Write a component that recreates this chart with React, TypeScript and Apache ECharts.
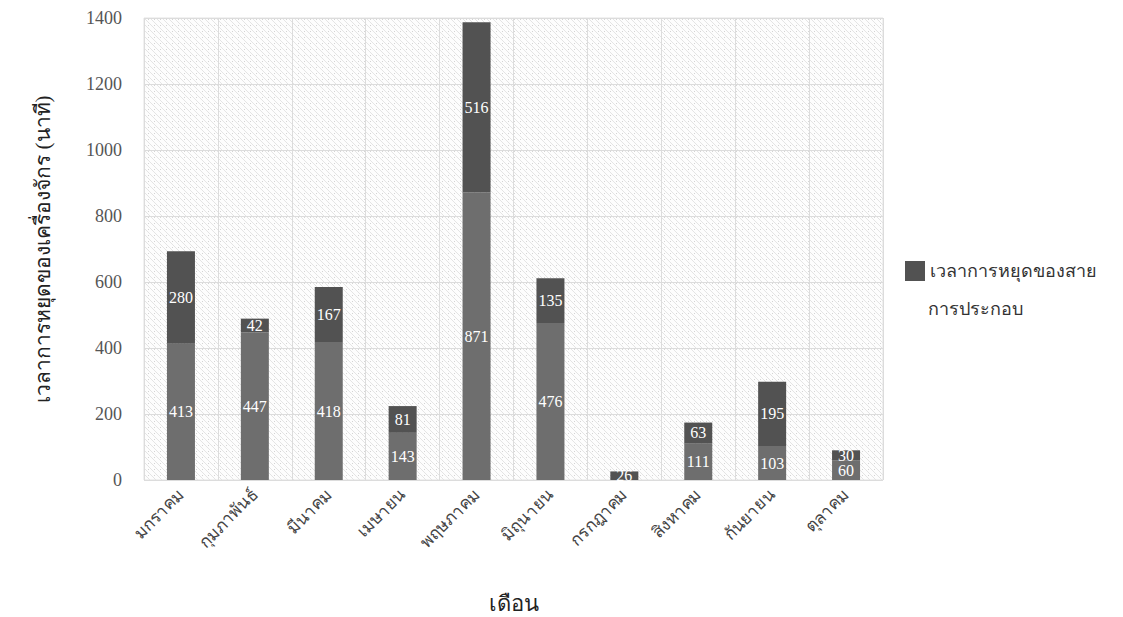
import React, { useEffect, useRef } from "react";
import * as echarts from "echarts";

const months = ["มกราคม", "กุมภาพันธ์", "มีนาคม", "เมษายน", "พฤษภาคม", "มิถุนายน", "กรกฎาคม", "สิงหาคม", "กันยายน", "ตุลาคม"];
const lowerValues = [413, 447, 418, 143, 871, 476, 0, 111, 103, 60];
const upperValues = [280, 42, 167, 81, 516, 135, 26, 63, 195, 30];
const lowerName = "เวลาการหยุดของเครื่องจักร";
const upperName = "เวลาการหยุดของสาย";
const upperNameLine2 = "การประกอบ";
const yAxisTitle = "เวลาการหยุดของเครื่องจักร (นาที)";
const xAxisTitle = "เดือน";

const FONT = "'Liberation Serif', 'DejaVu Serif', serif";

function makePattern(): any {
  const c = document.createElement("canvas");
  c.width = 6;
  c.height = 6;
  const ctx = c.getContext("2d")!;
  ctx.fillStyle = "#fdfdfd";
  ctx.fillRect(0, 0, 6, 6);
  ctx.strokeStyle = "#dddddd";
  ctx.lineWidth = 0.8;
  ctx.beginPath();
  for (let k = -6; k <= 6; k += 6) {
    ctx.moveTo(k, 0);
    ctx.lineTo(k + 6, 6);
  }
  ctx.stroke();
  ctx.fillStyle = "#d4d4d4";
  ctx.fillRect(4, 1, 1, 1);
  return { image: c.toDataURL(), repeat: "repeat" };
}

export default function App() {
  const ref = useRef<HTMLDivElement>(null);
  useEffect(() => {
    if (!ref.current) return;
    const chart = echarts.init(ref.current, null, { renderer: "svg" });
    const labelCfg = {
      show: true,
      position: "inside",
      color: "#ffffff",
      fontFamily: FONT,
      fontSize: 16,
      formatter: (p: any) => (p.value ? String(p.value) : ""),
    };
    chart.setOption({
      animation: false,
      backgroundColor: "#ffffff",
      textStyle: { fontFamily: FONT },
      grid: {
        left: 144,
        top: 18,
        width: 739,
        height: 462,
        show: true,
        outerBoundsMode: "none",
        containLabel: false,
        backgroundColor: makePattern(),
        borderColor: "#e2e2e2",
        borderWidth: 1,
      },
      legend: {
        data: [upperName],
        orient: "vertical",
        left: 900,
        top: 256,
        itemWidth: 20,
        itemHeight: 20,
        itemGap: 8,
        textStyle: { fontFamily: FONT, fontSize: 18, color: "#333" },
        icon: "rect",
      },
      graphic: [
        {
          type: "text",
          left: 928,
          top: 300,
          style: { text: upperNameLine2, fontFamily: FONT, fontSize: 18, fill: "#333" },
        },
      ],
      xAxis: {
        type: "category",
        data: months,
        name: xAxisTitle,
        nameLocation: "middle",
        nameGap: 112,
        nameTextStyle: { fontFamily: FONT, fontSize: 22, color: "#222" },
        axisLine: { show: false },
        axisTick: { show: false },
        splitLine: { show: true, lineStyle: { color: "#dcdcdc", width: 1 } },
        axisLabel: {
          rotate: 45,
          fontFamily: FONT,
          fontSize: 17,
          color: "#444",
          margin: 12,
          interval: 0,
        },
      },
      yAxis: {
        type: "value",
        min: 0,
        max: 1400,
        interval: 200,
        name: yAxisTitle,
        nameLocation: "middle",
        nameGap: 91,
        nameTextStyle: { fontFamily: FONT, fontSize: 21, color: "#222" },
        axisLine: { show: false },
        axisTick: { show: false },
        splitLine: { show: true, lineStyle: { color: "#dcdcdc", width: 1 } },
        axisLabel: {
          fontFamily: FONT,
          fontSize: 18,
          color: "#555",
          margin: 22,
          formatter: (v: number) => String(v),
        },
      },
      series: [
        {
          name: lowerName,
          type: "bar",
          stack: "total",
          data: lowerValues,
          barWidth: 28,
          itemStyle: { color: "#6e6e6e" },
          label: labelCfg,
        },
        {
          name: upperName,
          type: "bar",
          stack: "total",
          data: upperValues,
          barWidth: 28,
          itemStyle: { color: "#525252" },
          label: labelCfg,
        },
      ],
    });
    return () => chart.dispose();
  }, []);
  return (
    <div
      ref={ref}
      style={{ position: "fixed", left: 0, top: 0, width: 1123, height: 617 }}
    />
  );
}
